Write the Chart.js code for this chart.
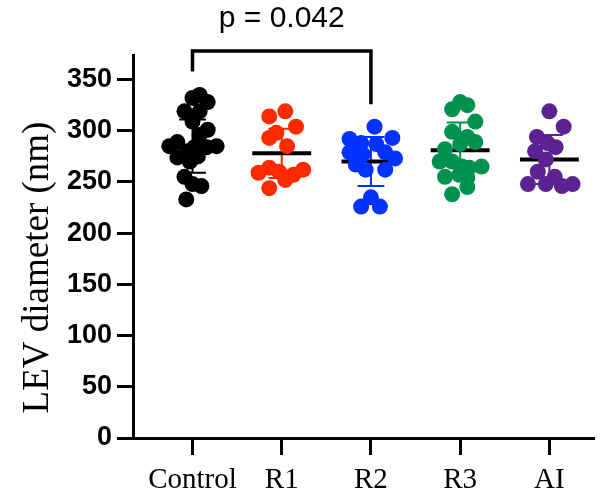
<!DOCTYPE html>
<html>
<head>
<meta charset="utf-8">
<script src="https://cdn.jsdelivr.net/npm/chart.js@4.4.1/dist/chart.umd.min.js"></script>
<style>
  html, body { margin: 0; padding: 0; background: #fff; }
  #wrap { width: 602px; height: 500px; }
</style>
</head>
<body>
<div id="wrap"><canvas id="levChart"></canvas></div>
<script>
// groups on the x axis
const groups = ['Control', 'R1', 'R2', 'R3', 'AI'];
const groupColors = ['#000000', '#FF2A00', '#0433FF', '#00914F', '#5B2392'];

// individual LEV diameters (nm), with their horizontal scatter offset
const controlVals = [335, 332, 328, 319, 319, 309, 301, 296, 289, 285, 285, 284, 284, 280, 274, 275, 270, 255, 248, 246, 233];
const controlJit  = [0.08, 0, 0.17, -0.09, 0.08, 0, 0.17, 0.08, -0.17, -0.26, 0.27, 0.16, 0.02, -0.06, -0.17, 0.06, -0.03, -0.09, 0, 0.1, -0.07];
const r1Vals = [319, 314, 304, 298, 293, 285, 264, 259, 260, 257, 262, 252, 244];
const r1Jit  = [0.04, -0.14, 0.16, -0.06, -0.14, 0.06, -0.14, -0.26, -0.03, 0.13, 0.24, 0.04, -0.14];
const r2Vals = [304, 292, 293, 288, 287, 279, 277, 279, 273, 267, 262, 262, 235, 226, 226];
const r2Jit  = [0.04, -0.24, 0.24, -0.11, 0.06, -0.24, -0.09, 0.16, 0.27, -0.17, -0.06, 0.16, 0, -0.11, 0.1];
const r3Vals = [328, 321, 325, 309, 299, 294, 289, 287, 282, 270, 270, 265, 264, 265, 255, 257, 254, 245, 238];
const r3Jit  = [0, -0.09, 0.08, 0.17, -0.09, 0.08, 0.17, 0, -0.17, -0.23, -0.09, 0.02, 0.1, 0.24, -0.17, -0.01, 0.08, 0.08, -0.09];
const aiVals = [319, 304, 294, 288, 284, 280, 272, 260, 255, 248, 248, 246, 248];
const aiJit  = [0, 0.16, -0.14, -0.02, 0.07, -0.16, -0.04, -0.13, 0.06, -0.24, -0.04, 0.14, 0.26];

// mean and SD per group
const groupMeans = [285, 278, 270, 281, 272];
const groupSDs   = [26, 24, 24, 27, 24];

// y axis ticks and title
const yTicks = [0, 50, 100, 150, 200, 250, 300, 350];
const yTitle = 'LEV diameter (nm)';

// significance bracket between Control and R2
const bracketFrom = 0, bracketTo = 2;
const bracketTop = 378, bracketLeftEnd = 358, bracketRightEnd = 326;
const pLabel = 'p = 0.042';
const pLabelValue = 401;

const allVals = [controlVals, r1Vals, r2Vals, r3Vals, aiVals];
const allJit = [controlJit, r1Jit, r2Jit, r3Jit, aiJit];

const meanHalf = 0.33;
const capHalf = 0.15;

const datasets = [];

// dots on top
allVals.forEach((vals, g) => {
    datasets.push({
        type: 'scatter',
        data: vals.map((v, i) => ({ x: g + allJit[g][i], y: v })),
        backgroundColor: groupColors[g],
        borderColor: groupColors[g],
        borderWidth: 0,
        pointRadius: 8,
        order: 0
    });
});

// SD bars behind the dots
groupMeans.forEach((m, g) => {
    const s = groupSDs[g];
    datasets.push({
        type: 'line',
        data: [
            { x: g - capHalf, y: m + s }, { x: g + capHalf, y: m + s }, { x: g, y: null },
            { x: g, y: m + s }, { x: g, y: m - s }, { x: g, y: null },
            { x: g - capHalf, y: m - s }, { x: g + capHalf, y: m - s }
        ],
        borderColor: groupColors[g],
        borderWidth: 2,
        pointRadius: 0,
        spanGaps: false,
        fill: false,
        order: 2
    });
});

// mean lines
groupMeans.forEach((m, g) => {
    datasets.push({
        type: 'line',
        data: [{ x: g - meanHalf, y: m }, { x: g + meanHalf, y: m }],
        borderColor: '#000000',
        borderWidth: 4,
        pointRadius: 0,
        fill: false,
        order: 1
    });
});

// bracket, p value and the rotated axis title
const annotatePlugin = {
    id: 'annotate',
    afterDraw(chart) {
        const ctx = chart.ctx;
        const xs = chart.scales.x, ys = chart.scales.y;
        const x1 = xs.getPixelForValue(bracketFrom);
        const x2 = xs.getPixelForValue(bracketTo);
        const yTop = ys.getPixelForValue(bracketTop);
        ctx.save();
        ctx.strokeStyle = '#000';
        ctx.lineWidth = 3.5;
        ctx.lineCap = 'butt';
        ctx.lineJoin = 'miter';
        ctx.beginPath();
        ctx.moveTo(x1, ys.getPixelForValue(bracketLeftEnd));
        ctx.lineTo(x1, yTop);
        ctx.lineTo(x2, yTop);
        ctx.lineTo(x2, ys.getPixelForValue(bracketRightEnd));
        ctx.stroke();
        ctx.fillStyle = '#000';
        ctx.font = '30px "Liberation Sans", Arial, sans-serif';
        ctx.textAlign = 'center';
        ctx.textBaseline = 'alphabetic';
        ctx.fillText(pLabel, xs.getPixelForValue((bracketFrom + bracketTo) / 2), ys.getPixelForValue(pLabelValue));

        // y title, a bit below the middle of the axis as in the original
        ctx.translate(38, (ys.top + ys.bottom) / 2 + 21);
        ctx.rotate(-Math.PI / 2);
        ctx.font = '37px "Liberation Serif", "Times New Roman", serif';
        ctx.textBaseline = 'middle';
        ctx.fillText(yTitle, 0, 0);
        ctx.restore();
    }
};

new Chart(document.getElementById('levChart'), {
    type: 'scatter',
    data: { datasets: datasets },
    options: {
        responsive: true,
        maintainAspectRatio: false,
        animation: false,
        layout: { padding: { top: 55, right: 2, left: 0, bottom: 0 } },
        plugins: {
            legend: { display: false },
            tooltip: { enabled: false }
        },
        scales: {
            x: {
                type: 'linear',
                min: -0.667,
                max: 4.5,
                afterBuildTicks: (scale) => { scale.ticks = groups.map((g, i) => ({ value: i })); },
                afterFit: (scale) => { scale.height = 62; },
                grid: {
                    drawOnChartArea: false,
                    drawTicks: true,
                    tickLength: 17,
                    tickWidth: 3,
                    tickColor: '#000'
                },
                border: { display: true, color: '#000', width: 3 },
                ticks: {
                    autoSkip: false,
                    maxRotation: 0,
                    padding: 8,
                    color: '#000',
                    font: { family: '"Liberation Serif", "Times New Roman", serif', size: 29 },
                    callback: (v) => groups[v]
                }
            },
            y: {
                type: 'linear',
                min: 0,
                max: 374,
                afterBuildTicks: (scale) => { scale.ticks = yTicks.map(v => ({ value: v })); },
                afterFit: (scale) => { scale.width = 133; },
                grid: {
                    drawOnChartArea: false,
                    drawTicks: true,
                    tickLength: 16,
                    tickWidth: 3,
                    tickColor: '#000'
                },
                border: { display: true, color: '#000', width: 3 },
                ticks: {
                    padding: 5,
                    color: '#000',
                    font: { family: '"Liberation Sans", Arial, sans-serif', size: 27, weight: 'bold' }
                }
            }
        }
    },
    plugins: [annotatePlugin]
});
</script>
</body>
</html>
